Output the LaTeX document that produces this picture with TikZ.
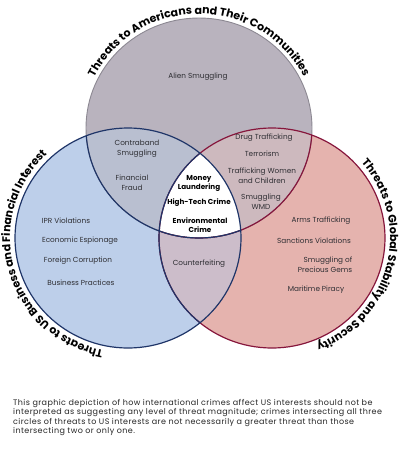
\documentclass[tikz,border=0pt]{standalone}
\usepackage{fontspec}
\setmainfont{Poppins}
\newfontfamily\notefont{Poppins}[LetterSpace=5]
\usetikzlibrary{decorations.text}
\definecolor{amfill}{HTML}{B9B3BE}
\definecolor{usfill}{HTML}{BDCFEA}
\definecolor{glfill}{HTML}{E5B3AE}
\definecolor{amusfill}{HTML}{B9BFD0}
\definecolor{amglfill}{HTML}{CDB9BE}
\definecolor{usglfill}{HTML}{CCBDCA}
\definecolor{amline}{HTML}{8C8892}
\definecolor{usline}{HTML}{1F3568}
\definecolor{glline}{HTML}{86163C}
\definecolor{crimetext}{HTML}{2E2E33}
\newcommand\ringfont{\fontsize{11}{13}\selectfont\bfseries}
\tikzset{
  crime/.style = {font=\fontsize{7.3}{10}\selectfont, text=crimetext, align=center, inner sep=0pt},
  core/.style = {crime, font=\fontsize{7.2}{8.8}\selectfont\bfseries, text=black},
  ring/.style = {decorate, decoration={text along path, text align=center, text format delimiters={|}{|}}},
  caption/.style = {font=\notefont\fontsize{8}{9.5}\selectfont, align=left, inner sep=0pt, text=black!85}
}

\begin{document}
\begin{tikzpicture}[x=1pt,y=1pt]
  \useasboundingbox (0,0) rectangle (400,-453);
  \def\amer{(199,-128) ellipse [x radius=113, y radius=110]}
  \def\biz{(128,-238) ellipse [x radius=113, y radius=110]}
  \def\glob{(272,-238) ellipse [x radius=113, y radius=110]}
  % fills
  \fill[amfill] \amer;
  \fill[usfill] \biz;
  \fill[glfill] \glob;
  \begin{scope}
    \clip \amer;
    \fill[amusfill] \biz;
    \fill[amglfill] \glob;
  \end{scope}
  \begin{scope}
    \clip \biz;
    \fill[usglfill] \glob;
    \clip \glob;
    \fill[white] \amer;
  \end{scope}
  % outlines
  \draw[amline, line width=0.9pt] \amer;
  \draw[glline, line width=1.2pt] \glob;
  \begin{scope}
    \clip \glob;
    \draw[glline, line width=1.2pt] \amer;
  \end{scope}
  \draw[usline, line width=1.2pt] \biz;
  \begin{scope}
    \clip \biz;
    \draw[usline, line width=1.2pt] \amer \glob;
  \end{scope}
  % titles round the circles
  \path[ring, decoration={text={|\ringfont|Threats to Americans and Their Communities}}]
    (199,-128) ++(175:117 and 114) arc[start angle=175, end angle=5, x radius=117, y radius=114];
  \path[ring, decoration={text={|\ringfont|Threats to US Business and Financial Interest}}]
    (128,-238) ++(-79.5:118 and 115) arc[start angle=-79.5, end angle=-249.5, x radius=118, y radius=115];
  \path[ring, decoration={text={|\ringfont|Threats to Global Stability and Security}}]
    (272,-238) ++(71.5:118 and 115) arc[start angle=71.5, end angle=-98.5, x radius=118, y radius=115];
  % crimes
  \node[crime] (alien) at (198,-77) {Alien Smuggling};
  \node[crime] (contra) at (137,-149) {Contraband\\Smuggling};
  \node[crime] (fraud) at (132,-182.5) {Financial\\Fraud};
  \node[crime] (drugs) at (264,-138) {Drug Trafficking};
  \node[crime] (terror) at (262,-154) {Terrorism};
  \node[crime] (women) at (262,-176) {Trafficking Women\\and Children};
  \node[crime] (wmd) at (261,-202) {Smuggling\\WMD};
  \node[core] (money) at (199,-183.5) {Money\\Laundering};
  \node[core] (hitech) at (199,-203) {High-Tech Crime};
  \node[core] (enviro) at (200,-225) {Environmental\\Crime};
  \node[crime] (ipr) at (66,-221) {IPR Violations};
  \node[crime] (spying) at (80,-241) {Economic Espionage};
  \node[crime] (corrupt) at (78,-261) {Foreign Corruption};
  \node[crime] (business) at (81,-283) {Business Practices};
  \node[crime] (fake) at (199,-264) {Counterfeiting};
  \node[crime] (arms) at (321,-221) {Arms Trafficking};
  \node[crime] (sanction) at (314,-241) {Sanctions Violations};
  \node[crime, align=right] (gems) at (325,-264.5) {Smuggling of\\Precious Gems};
  \node[crime] (piracy) at (316,-290) {Maritime Piracy};
  % note below
  \node[caption, anchor=north west] (note) at (13,-399) {This graphic depiction of how international crimes affect US interests should not be\\
    interpreted as suggesting any level of threat magnitude; crimes intersecting all three\\
    circles of threats to US interests are not necessarily a greater threat than those\\
    intersecting two or only one.};
\end{tikzpicture}
\end{document}
